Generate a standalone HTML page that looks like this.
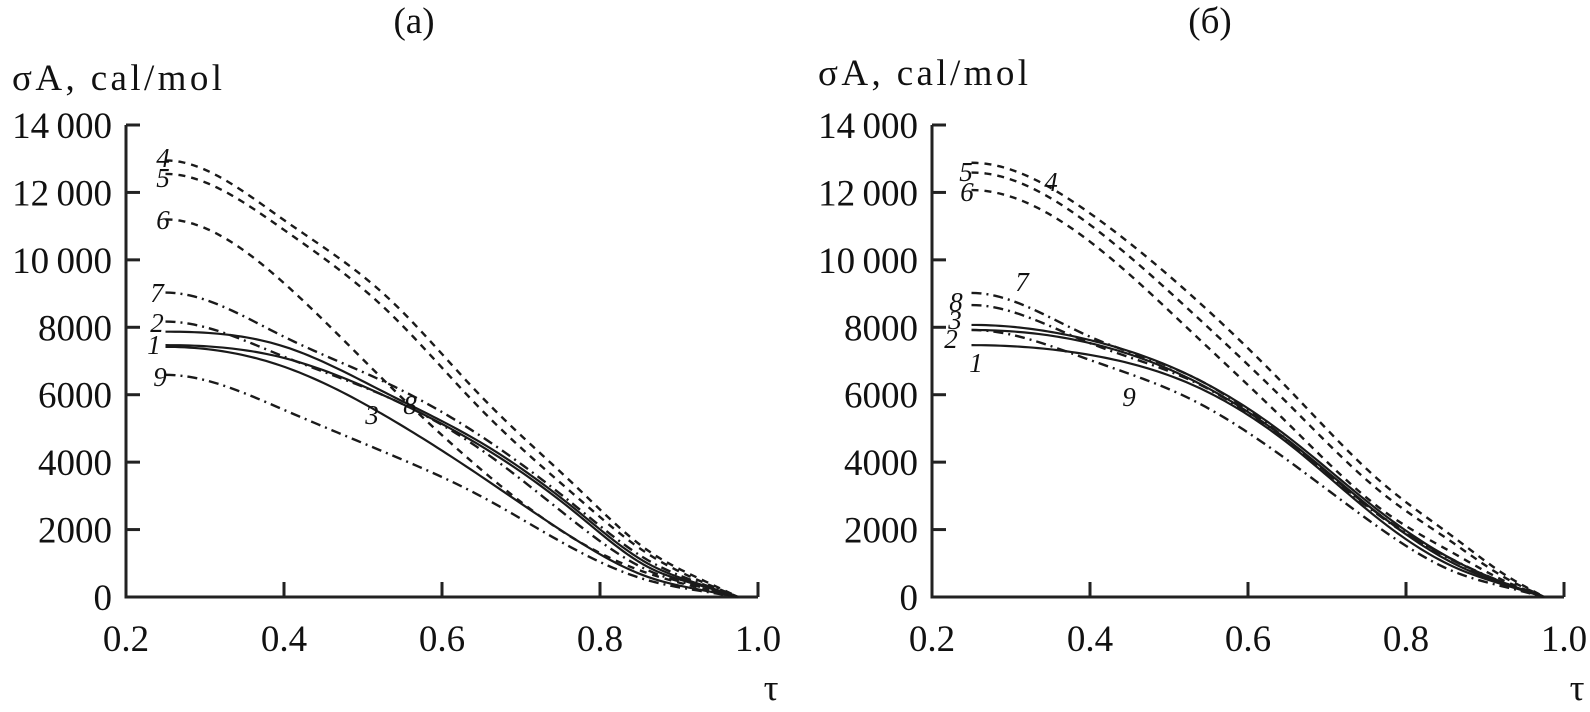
<!DOCTYPE html>
<html><head><meta charset="utf-8"><style>
body{margin:0;background:#fff;}
svg{display:block;font-family:"Liberation Serif",serif;}
</style></head><body>
<svg id="chart" width="1590" height="712" viewBox="0 0 1590 712" xmlns="http://www.w3.org/2000/svg"></svg>
<script>
const taus = [0.25, 0.40, 0.53, 0.65, 0.77, 0.86, 0.93, 0.975];
const xTicks = [0.2, 0.4, 0.6, 0.8, 1.0];
const xTickLabels = ["0.2", "0.4", "0.6", "0.8", "1.0"];
const yTicks = [0, 2000, 4000, 6000, 8000, 10000, 12000, 14000];
const yTickLabels = ["0", "2000", "4000", "6000", "8000", "10\u2009000", "12\u2009000", "14\u2009000"];
const seriesNames = ["1","2","3","4","5","6","7","8","9"];
const leftStyles = ["solid","dashdot","solid","dash","dash","dash","dashdot","solid","dashdot"];
const rightStyles = ["solid","solid","solid","dash","dash","dash","dashdot","dashdot","dashdot"];
const left1 = [7470,7090,5940,4470,2480,900,320,0];
const left2 = [8170,7130,5940,4360,2190,800,280,0];
const left3 = [7420,6830,5350,3570,1690,600,200,0];
const left4 = [12950,11180,8910,5940,3270,1390,500,0];
const left5 = [12550,10890,8510,5550,2980,1290,440,0];
const left6 = [11200,9310,6350,3770,1690,710,250,0];
const left7 = [9030,7720,6350,4760,2680,1100,380,0];
const left8 = [7870,7430,6040,4570,2580,1000,350,0];
const left9 = [6590,5550,4270,2980,1390,500,170,0];
const right1 = [7470,7180,6290,4570,2230,900,320,0];
const right2 = [7920,7530,6430,4660,2380,1000,340,0];
const right3 = [8070,7620,6530,4760,2480,1100,370,0];
const right4 = [12880,11380,8910,6200,3380,1780,590,0];
const right5 = [12590,11040,8420,5750,3080,1600,510,0];
const right6 = [12070,10540,7830,5160,2580,1300,420,0];
const right7 = [9020,7720,6530,4660,2380,1100,370,0];
const right8 = [8660,7530,6400,4600,2350,1080,360,0];
const right9 = [7920,7030,5840,4060,1990,760,270,0];
const leftSeries = [left1,left2,left3,left4,left5,left6,left7,left8,left9];
const rightSeries = [right1,right2,right3,right4,right5,right6,right7,right8,right9];

const NS = "http://www.w3.org/2000/svg";
const svg = document.getElementById("chart");
function mk(tag, attrs, parent){const e=document.createElementNS(NS,tag);for(const k in attrs)e.setAttribute(k,attrs[k]);(parent||svg).appendChild(e);return e;}
const dashes = {solid:"", dash:"7,6", dashdot:"10,5,2,5"};

// clamped cubic spline (zero slope at start, one-sided slope at end)
function spline(xs, ys){
  const n=xs.length, h=[];
  for(let i=0;i<n-1;i++)h.push(xs[i+1]-xs[i]);
  const d0=0, dn=(ys[n-1]-ys[n-2])/h[n-2];
  const a=new Array(n).fill(0),b=new Array(n).fill(0),c=new Array(n).fill(0),r=new Array(n).fill(0);
  b[0]=2*h[0];c[0]=h[0];r[0]=6*((ys[1]-ys[0])/h[0]-d0);
  for(let i=1;i<n-1;i++){a[i]=h[i-1];b[i]=2*(h[i-1]+h[i]);c[i]=h[i];
    r[i]=6*((ys[i+1]-ys[i])/h[i]-(ys[i]-ys[i-1])/h[i-1]);}
  a[n-1]=h[n-2];b[n-1]=2*h[n-2];r[n-1]=6*(dn-(ys[n-1]-ys[n-2])/h[n-2]);
  for(let i=1;i<n;i++){const w=a[i]/b[i-1];b[i]-=w*c[i-1];r[i]-=w*r[i-1];}
  const M=new Array(n);M[n-1]=r[n-1]/b[n-1];
  for(let i=n-2;i>=0;i--)M[i]=(r[i]-c[i]*M[i+1])/b[i];
  return x=>{
    let i=0;while(i<n-2&&x>xs[i+1])i++;
    const t1=xs[i+1]-x,t0=x-xs[i],hi=h[i];
    return M[i]*t1*t1*t1/(6*hi)+M[i+1]*t0*t0*t0/(6*hi)+(ys[i]/hi-M[i]*hi/6)*t1+(ys[i+1]/hi-M[i+1]*hi/6)*t0;
  };
}

function panel(id, x0, title, titleX, ylabY, series, styles, labels){
  const g = mk("g",{});
  
  
  const sx = t => x0 + (t-0.2)/0.8*632;
  const sy = v => 597 - v/14000*472;
  const ax = mk("path",{d:`M${x0},${sy(14000)}V597H${sx(1.0)}`,fill:"none",stroke:"#222","stroke-width":3},g);
  
  
  xTicks.forEach((t,i)=>{
    if(i>0){const tk=mk("line",{x1:sx(t),x2:sx(t),y1:597,y2:582,stroke:"#222","stroke-width":3},g);
      
      }
    const tx=mk("text",{x:sx(t),y:651,"text-anchor":"middle","font-size":37,fill:"#111"},g);
    tx.textContent=xTickLabels[i];
    
    
  });
  yTicks.forEach((v,i)=>{
    if(i>0){const tk=mk("line",{x1:x0,x2:x0+14,y1:sy(v),y2:sy(v),stroke:"#222","stroke-width":3},g);
      
      }
    const tx=mk("text",{x:x0-14,y:sy(v)+13,"text-anchor":"end","font-size":37,fill:"#111"},g);
    tx.textContent=yTickLabels[i];
    
    
  });
  const tt=mk("text",{x:titleX,y:33,"text-anchor":"middle","font-size":37,fill:"#111"},g);
  tt.textContent=title;
  
  
  const yl=mk("text",{x:x0-114,y:ylabY,"font-size":37,fill:"#111",textLength:210,lengthAdjust:"spacing"},g);
  yl.textContent="σA, cal/mol";
  
  
  const xl=mk("text",{x:sx(1.0)+13,y:700,"text-anchor":"middle","font-size":37,fill:"#111"},g);
  xl.textContent="τ";
  
  
  series.forEach((vals,si)=>{
    const f = spline(taus, vals);
    const t0=taus[0], t1=taus[taus.length-1], N=120;
    let pts=[];
    for(let k=0;k<=N;k++){const t=t0+(t1-t0)*k/N;pts.push(sx(t).toFixed(2)+","+sy(Math.max(0,f(t))).toFixed(2));}
    const st=styles[si];
    const p=mk("polyline",{points:pts.join(" "),fill:"none",stroke:"#1a1a1a","stroke-width":st==="solid"?2.2:2.4,"stroke-linejoin":"round"},g);
    if(dashes[st])p.setAttribute("stroke-dasharray",dashes[st]);
    
    
  });
  labels.forEach(l=>{
    const t=mk("text",{x:l[1],y:l[2]+9,"font-size":27,"font-style":"italic",fill:"#111","text-anchor":"middle"},g);
    t.textContent=l[0];
    
    
  });
}
panel("panel-a",126,"(a)",414,90,leftSeries,leftStyles,
 [["4",163,158],["5",163,178],["6",163,220],["7",157,293],["2",157,323],["1",154,345],["9",160,377],["3",372,415],["8",410,405]]);
panel("panel-b",932,"(б)",1210,85,rightSeries,rightStyles,
 [["5",966,172],["4",1051,182],["6",967,192],["7",1022,282],["8",956,302],["3",955,320],["2",951,339],["1",976,363],["9",1129,397]]);
</script>
</body></html>
